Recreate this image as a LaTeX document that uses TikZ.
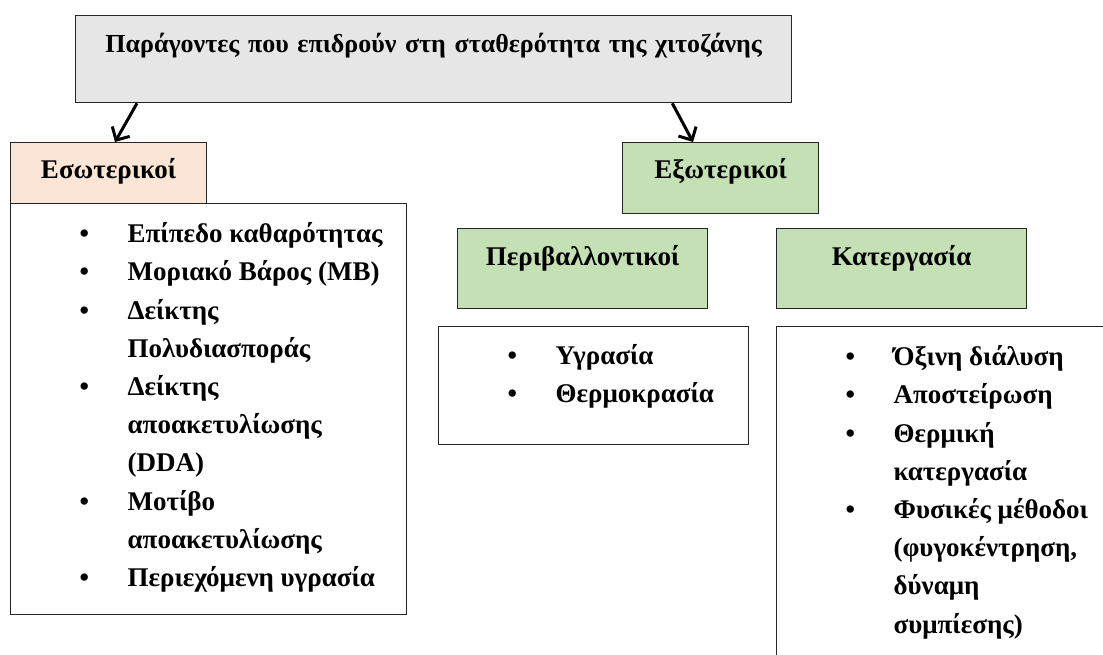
\documentclass[tikz,border=0pt]{standalone}
\usepackage{fontspec}
\setmainfont{Liberation Serif}
\usetikzlibrary{arrows.meta}

\definecolor{titlegray}{HTML}{E7E6E6}
\definecolor{intpeach}{HTML}{FBE5D6}
\definecolor{extgreen}{HTML}{C5E0B4}

\newlength{\itmind}\setlength{\itmind}{117pt}
\newcommand{\itm}[1]{\par\noindent\hangindent=\itmind\hangafter=1%
  \makebox[\itmind][l]{\rule{0pt}{26pt}\hspace{69pt}\textbullet}#1}
\newcommand{\itmlist}[4]{\parbox[t][#2][t]{#1}{\fontsize{27}{38.2}\selectfont\bfseries
  \parskip=0pt\vspace*{#3}#4}}

\tikzset{
  hdr/.style={draw=black!85, line width=1.3pt, inner sep=0pt, anchor=north west, align=center,
    font=\fontsize{27}{32}\selectfont\bfseries},
  lst/.style={draw=black!85, line width=1.3pt, inner sep=0pt, anchor=north west, fill=white},
  arr/.style={-{Straight Barb[length=10pt,width=20pt]}, line width=3pt}
}

\begin{document}
\begin{tikzpicture}[x=1pt, y=-1pt]
  \useasboundingbox (0,0) rectangle (1103,655);

  \node[hdr, fill=titlegray, text width=716pt, text height=37pt, text depth=50pt,
    font=\fontsize{26}{30}\selectfont\bfseries] (title) at (75,15)
    {Παράγοντες που επιδρούν στη σταθερότητα της χιτοζάνης};

  \node[hdr, fill=intpeach, text width=196pt, text height=36pt, text depth=26pt] (int) at (10,142) {Εσωτερικοί};
  \node[hdr, fill=extgreen, text width=196pt, text height=36pt, text depth=35pt] (ext) at (622,142) {Εξωτερικοί};
  \node[hdr, fill=extgreen, text width=250pt, text height=37pt, text depth=43pt] (env) at (457,228) {Περιβαλλοντικοί};
  \node[hdr, fill=extgreen, text width=250pt, text height=37pt, text depth=43pt] (proc) at (776,228) {Κατεργασία};

  % lists of factors
  \node[lst] (intlist) at (10,203) {\itmlist{396pt}{411pt}{13pt}{%
    \itm{Επίπεδο καθαρότητας}
    \itm{Μοριακό Βάρος (ΜΒ)}
    \itm{Δείκτης\\Πολυδιασποράς}
    \itm{Δείκτης\\αποακετυλίωσης\\(DDA)}
    \itm{Μοτίβο\\αποακετυλίωσης}
    \itm{Περιεχόμενη υγρασία}}};
  \node[lst] (envlist) at (438,326) {\itmlist{310pt}{118pt}{12pt}{%
    \itm{Υγρασία}
    \itm{Θερμοκρασία}}};
  \node[lst] (proclist) at (776,326) {\itmlist{360pt}{360pt}{13pt}{%
    \itm{Όξινη διάλυση}
    \itm{Αποστείρωση}
    \itm{Θερμική\\κατεργασία}
    \itm{Φυσικές μέθοδοι\\(φυγοκέντρηση,\\δύναμη\\συμπίεσης)}}};

  \draw[arr] ([xshift=62pt]title.south west) -- ([xshift=105pt]int.north west);
  \draw[arr] ([xshift=-120pt]title.south east) -- ([xshift=71pt]ext.north west);
\end{tikzpicture}
\end{document}
